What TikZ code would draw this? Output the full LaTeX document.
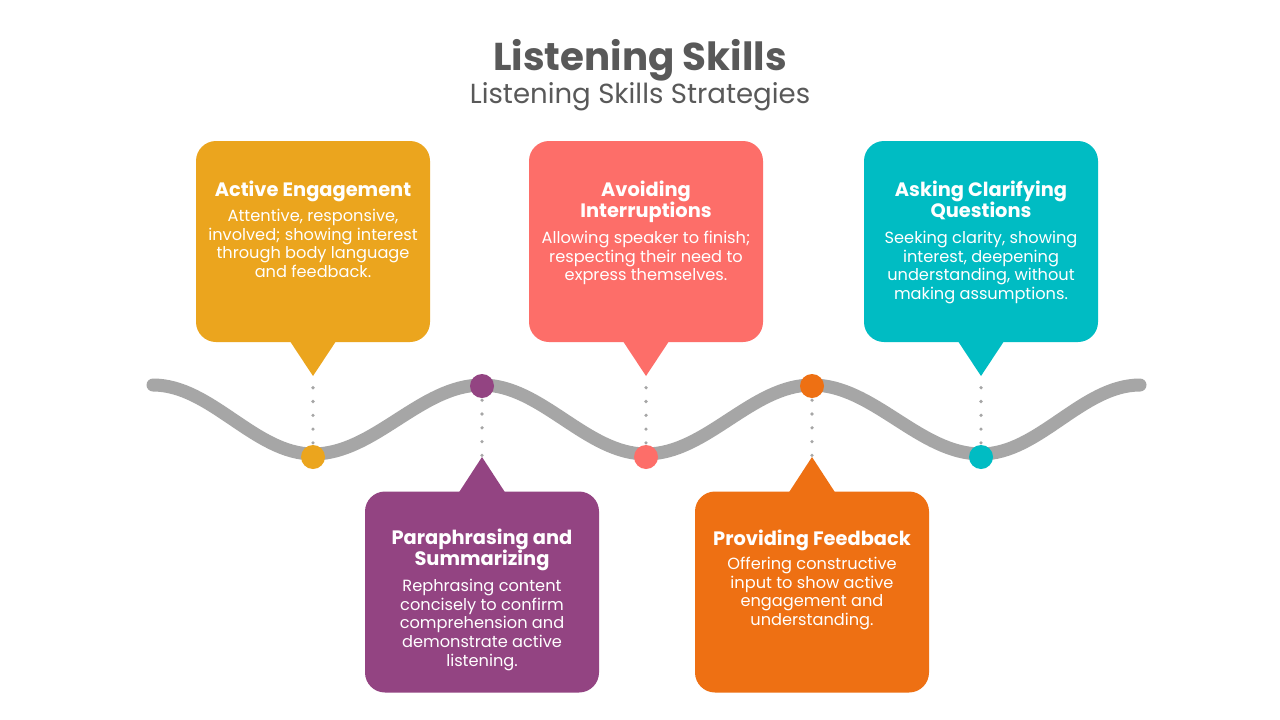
\documentclass[tikz,border=0pt]{standalone}
\usepackage{fontspec}
\setmainfont{Poppins}
\definecolor{cyel}{HTML}{EBA51E}
\definecolor{csal}{HTML}{FD6E69}
\definecolor{cteal}{HTML}{00BCC3}
\definecolor{cpur}{HTML}{934482}
\definecolor{corg}{HTML}{EE7013}
\definecolor{cwave}{HTML}{A6A6A6}
\definecolor{ctitle}{HTML}{595959}
\begin{document}
\begin{tikzpicture}[x=1pt,y=-1pt,
  bub/.style={fill=#1, rounded corners=20pt, minimum width=234pt, minimum height=201pt, inner sep=0pt},
  hd/.style={text=white, align=center, inner sep=0pt, anchor=north, font=\fontsize{19.4}{21.5}\selectfont\bfseries},
  bd/.style={text=white, align=center, inner sep=0pt, anchor=north, font=\fontsize{16.2}{18.8}\selectfont},
  dotn/.style={circle, fill=#1, minimum size=24pt, inner sep=0pt},
  dotline/.style={cwave, line width=3.6pt, line cap=round, dash pattern=on 0pt off 13.8pt},
  wave/.style={cwave, line width=13pt, line cap=round}
]
\useasboundingbox (0,0) rectangle (1280,720);
\fill[white] (0,0) rectangle (1280,720);

% title
\node[text=ctitle, anchor=base, font=\fontsize{38.8}{42}\selectfont\bfseries] (title) at (640,70) {Listening Skills};
\node[text=ctitle, anchor=base, font=\fontsize{27.6}{30}\selectfont] (subtitle) at (640,103) {Listening Skills Strategies};

% wave
\draw[wave] (153,385)
  .. controls (211.1,385) and (254.9,454) .. (313,454)
  .. controls (374.4,454) and (420.6,385) .. (482,385)
  .. controls (541.6,385) and (586.4,454) .. (646,454)
  .. controls (706.3,454) and (751.7,385) .. (812,385)
  .. controls (873.4,385) and (919.6,454) .. (981,454)
  .. controls (1038.8,454) and (1082.2,385) .. (1140,385);

% boxes
\node[bub=cyel] (b1) at (313,241.5) {};
\node[bub=csal] (b2) at (646,241.5) {};
\node[bub=cteal] (b3) at (981,241.5) {};
\node[bub=cpur] (b4) at (482,592) {};
\node[bub=corg] (b5) at (812,592) {};

% pointer apexes
\coordinate (a1) at (313,376);
\coordinate (a2) at (646,376);
\coordinate (a3) at (981,376);
\coordinate (a4) at (482,457);
\coordinate (a5) at (812,457);

\fill[cyel] ([xshift=-23pt,yshift=1pt]b1.south) -- ([xshift=23pt,yshift=1pt]b1.south) -- (a1) -- cycle;
\fill[csal] ([xshift=-23pt,yshift=1pt]b2.south) -- ([xshift=23pt,yshift=1pt]b2.south) -- (a2) -- cycle;
\fill[cteal] ([xshift=-23pt,yshift=1pt]b3.south) -- ([xshift=23pt,yshift=1pt]b3.south) -- (a3) -- cycle;
\fill[cpur] ([xshift=-23pt,yshift=-1pt]b4.north) -- ([xshift=23pt,yshift=-1pt]b4.north) -- (a4) -- cycle;
\fill[corg] ([xshift=-23pt,yshift=-1pt]b5.north) -- ([xshift=23pt,yshift=-1pt]b5.north) -- (a5) -- cycle;

% dots
\node[dotn=cyel] (d1) at (313,457) {};
\node[dotn=cpur] (d4) at (482,386) {};
\node[dotn=csal] (d2) at (646,457) {};
\node[dotn=corg] (d5) at (812,386) {};
\node[dotn=cteal] (d3) at (981,457) {};

% dotted connectors
\draw[dotline] ([yshift=-11.7pt]a1) -- (d1.north);
\draw[dotline] ([yshift=-11.7pt]a2) -- (d2.north);
\draw[dotline] ([yshift=-11.7pt]a3) -- (d3.north);
\draw[dotline] ([yshift=-2pt]d4.south) -- (a4);
\draw[dotline] ([yshift=-2pt]d5.south) -- (a5);

% texts
\node[hd] (h1) at (313,176) {\rule{0pt}{20pt}Active Engagement};
\node[bd] (t1) at (313,205) {\rule{0pt}{16pt}Attentive, responsive,\\involved; showing interest\\through body language\\and feedback.};

\node[hd] (h2) at (646,176) {\rule{0pt}{20pt}Avoiding\\Interruptions};
\node[bd] (t2) at (646,227) {\rule{0pt}{16pt}Allowing speaker to finish;\\respecting their need to\\express themselves.};

\node[hd] (h3) at (981,176) {\rule{0pt}{20pt}Asking Clarifying\\Questions};
\node[bd] (t3) at (981,227) {\rule{0pt}{16pt}Seeking clarity, showing\\interest, deepening\\understanding, without\\making assumptions.};

\node[hd] (h4) at (482,524) {\rule{0pt}{20pt}Paraphrasing and\\Summarizing};
\node[bd] (t4) at (482,575) {\rule{0pt}{16pt}Rephrasing content\\concisely to confirm\\comprehension and\\demonstrate active\\listening.};

\node[hd] (h5) at (812,525) {\rule{0pt}{20pt}Providing Feedback};
\node[bd] (t5) at (812,553) {\rule{0pt}{16pt}Offering constructive\\input to show active\\engagement and\\understanding.};
\end{tikzpicture}
\end{document}
